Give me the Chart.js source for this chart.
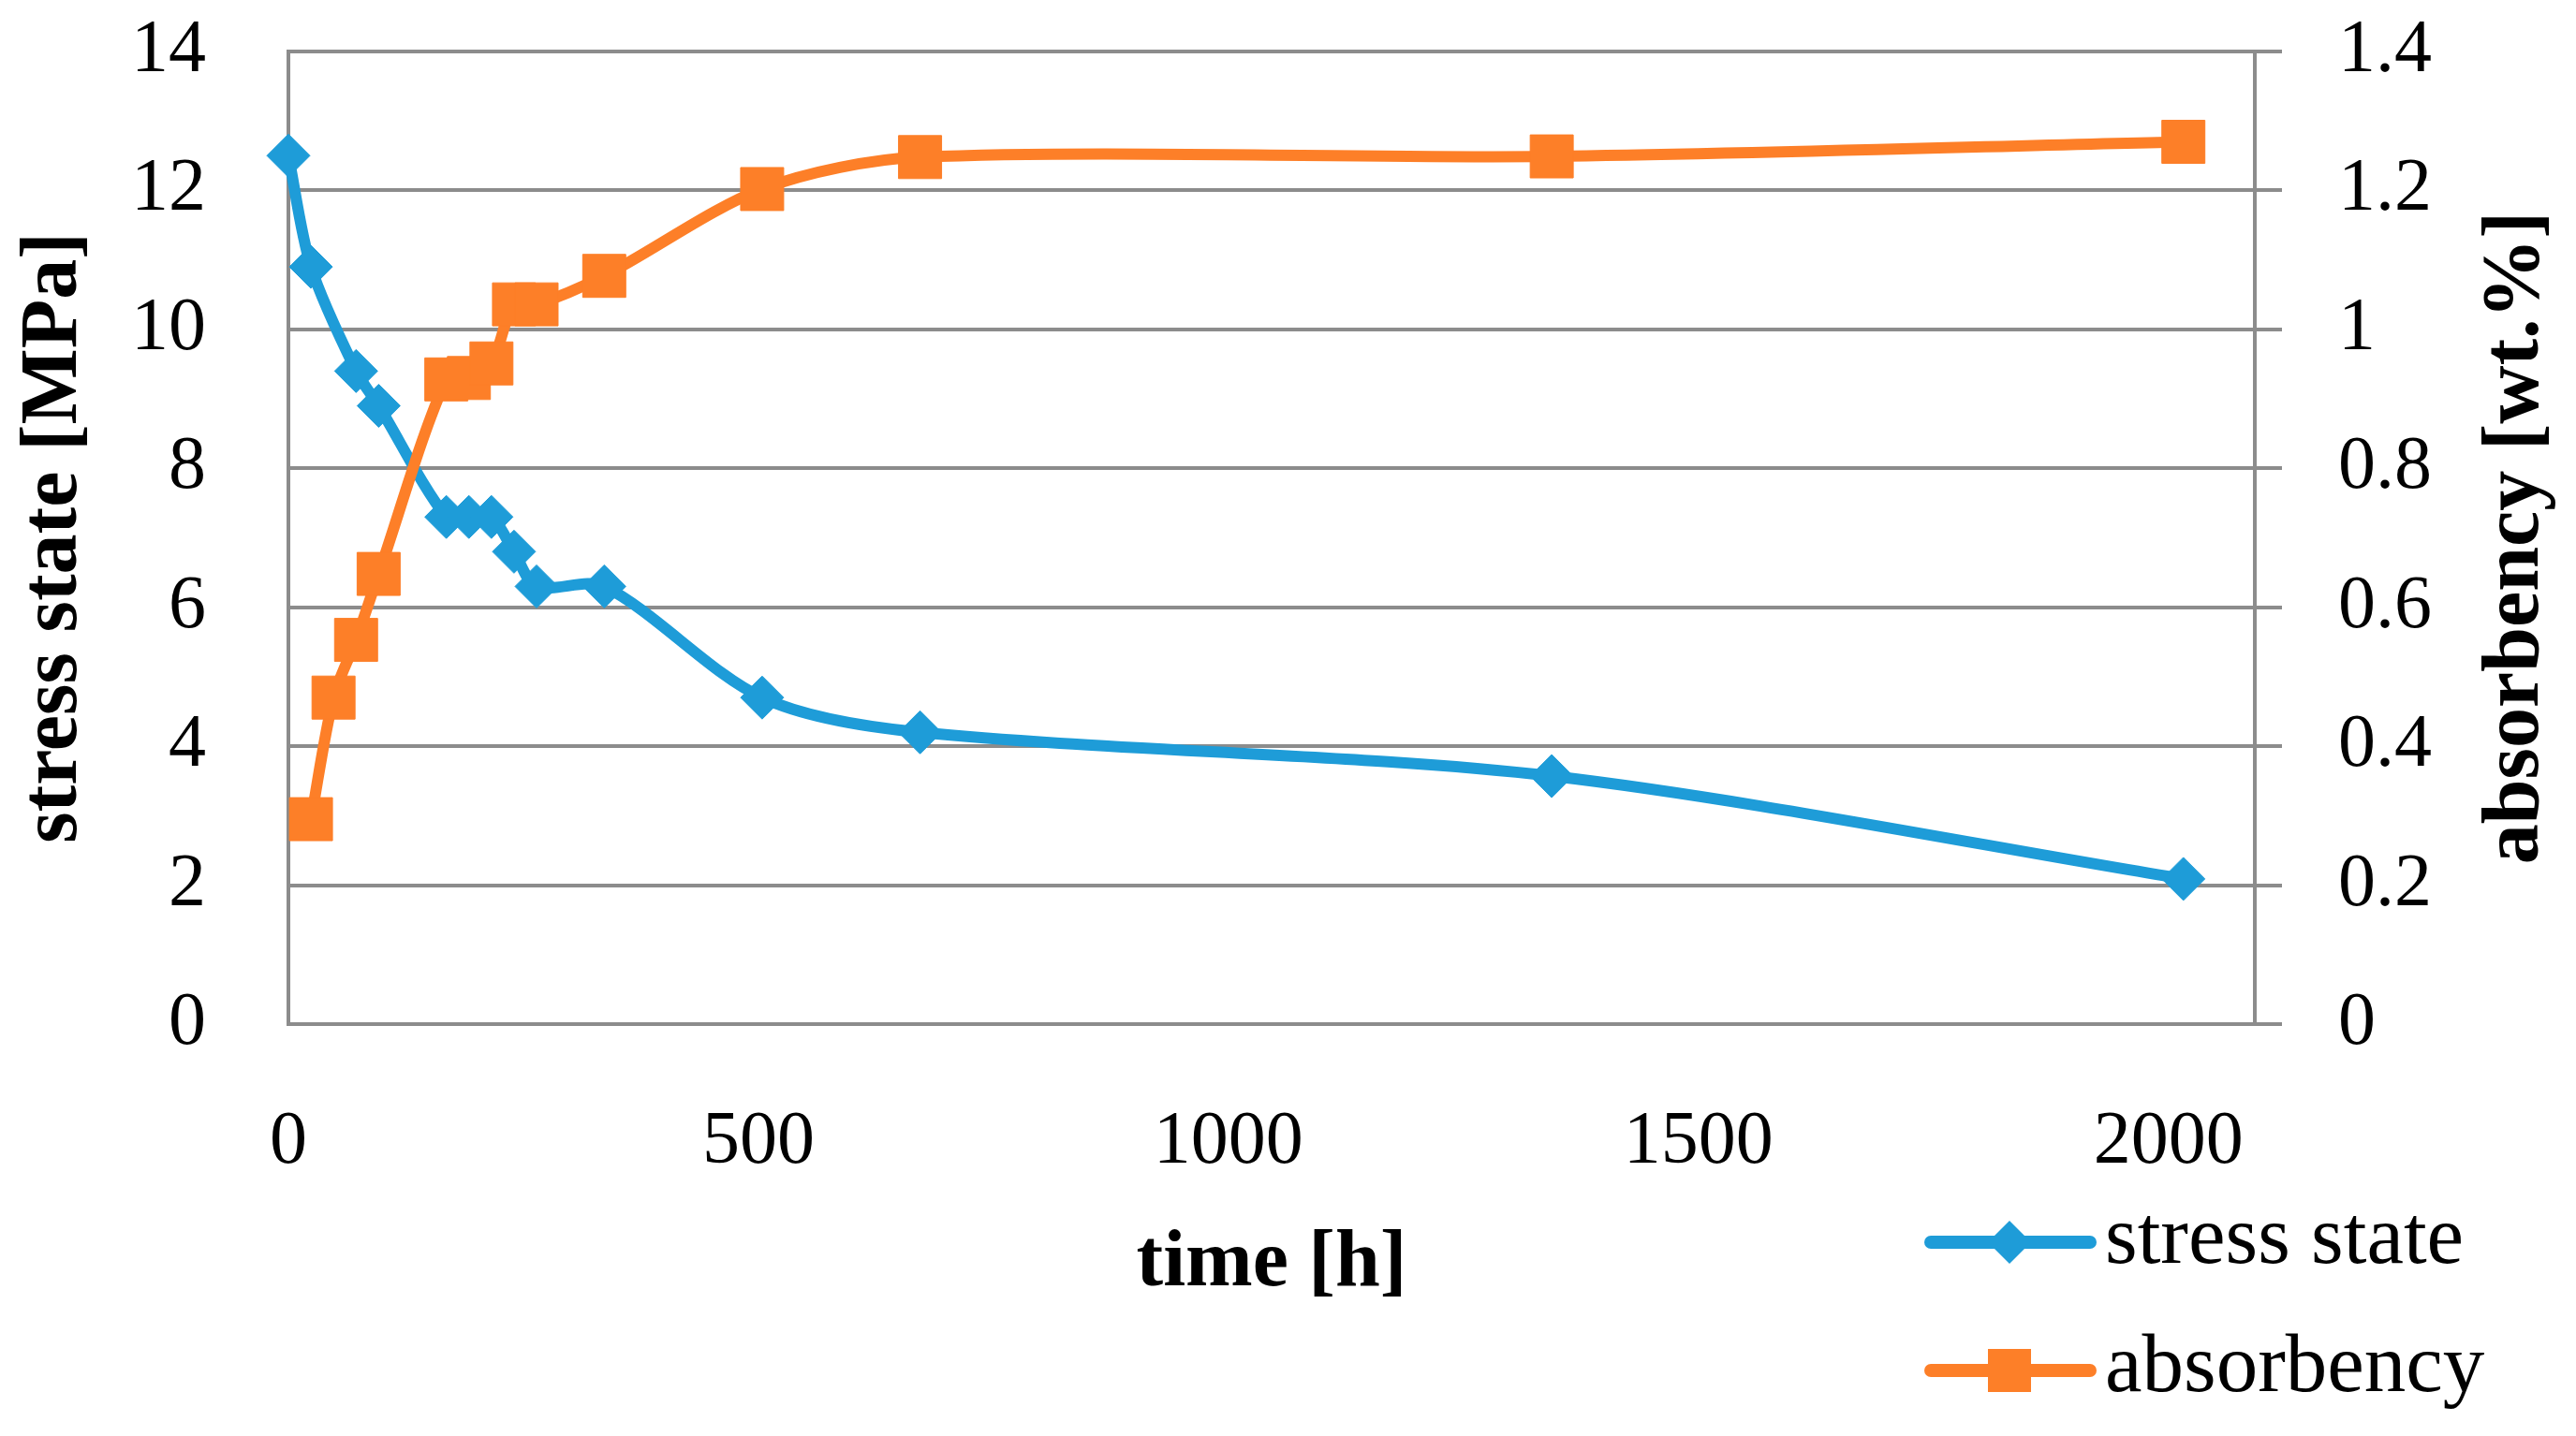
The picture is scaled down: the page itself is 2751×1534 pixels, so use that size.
<!DOCTYPE html>
<html>
<head>
<meta charset="utf-8">
<title>stress state and absorbency</title>
<script src="https://cdn.jsdelivr.net/npm/chart.js@4/dist/chart.umd.min.js"></script>
<style>
  html, body { margin: 0; padding: 0; background: #ffffff; }
  #wrap { width: 2751px; height: 1534px; }
</style>
</head>
<body>
<div id="wrap"><canvas id="chart" width="2751" height="1534"></canvas></div>
<script>
// time in hours
const stressTime = [0, 24, 72, 96, 168, 192, 216, 240, 264, 336, 504, 672, 1344, 2016];
const stressValues = [12.5, 10.9, 9.4, 8.9, 7.3, 7.3, 7.3, 6.8, 6.3, 6.3, 4.7, 4.2, 3.57, 2.09];

const absorbTime = [24, 48, 72, 96, 168, 192, 216, 240, 264, 336, 504, 672, 1344, 2016];
const absorbValues = [0.295, 0.47, 0.553, 0.648, 0.928, 0.93, 0.951, 1.036, 1.036, 1.077, 1.202, 1.248, 1.249, 1.27];

const xTicks = [0, 500, 1000, 1500, 2000];
const seriesLabels = ['stress state', 'absorbency'];
const xTitle = 'time [h]';
const leftTitle = 'stress state [MPa]';
const rightTitle = 'absorbency [wt.%]';

const blue = '#1e9cd8';
const orange = '#fd7f28';
const gridGray = '#8c8c8c';
const serif = "'Liberation Serif', 'Times New Roman', serif";

function toPoints(xs, ys) {
  return xs.map((x, i) => ({ x: x, y: ys[i] }));
}

// keep the big label padding from pushing the plot down
function fixWidth(w) {
  return scale => {
    scale.width = w;
    scale.paddingTop = 40;
    scale.paddingBottom = 40;
  };
}

// right axis title reads bottom-to-top, and the legend sits under the plot as a column
const extras = {
  id: 'extras',
  afterDraw(chart) {
    const ctx = chart.ctx;
    const area = chart.chartArea;

    ctx.save();
    ctx.font = 'bold 86px ' + serif;
    ctx.fillStyle = '#000';
    ctx.textAlign = 'center';
    ctx.textBaseline = 'alphabetic';
    ctx.translate(chart.width - 41, (area.top + area.bottom) / 2);
    ctx.rotate(-Math.PI / 2);
    ctx.fillText(rightTitle, 0, 0);
    ctx.restore();

    const rows = [1327, 1464];
    chart.data.datasets.forEach((ds, i) => {
      const y = rows[i];
      ctx.save();
      ctx.strokeStyle = ds.borderColor;
      ctx.lineWidth = 14;
      ctx.lineCap = 'round';
      ctx.beginPath();
      ctx.moveTo(2062, y);
      ctx.lineTo(2232, y);
      ctx.stroke();
      ctx.fillStyle = ds.borderColor;
      ctx.beginPath();
      if (ds.pointStyle === 'rectRot') {
        ctx.moveTo(2146 - 23, y);
        ctx.lineTo(2146, y - 23);
        ctx.lineTo(2146 + 23, y);
        ctx.lineTo(2146, y + 23);
        ctx.closePath();
      } else {
        ctx.rect(2146 - 23, y - 23, 46, 46);
      }
      ctx.fill();
      ctx.fillStyle = '#000';
      ctx.font = '89px ' + serif;
      ctx.textAlign = 'left';
      ctx.textBaseline = 'alphabetic';
      ctx.fillText(ds.label, 2248, y + 22);
      ctx.restore();
    });
  }
};

new Chart(document.getElementById('chart'), {
  type: 'line',
  data: {
    datasets: [{
      label: seriesLabels[0],
      data: toPoints(stressTime, stressValues),
      yAxisID: 'y',
      borderColor: blue,
      backgroundColor: blue,
      borderWidth: 12,
      borderJoinStyle: 'round',
      borderCapStyle: 'round',
      pointStyle: 'rectRot',
      pointRadius: 23,
      pointBorderWidth: 1,
      pointBorderColor: blue,
      pointBackgroundColor: blue,
      tension: 0.3,
      clip: false,
      order: 2
    }, {
      label: seriesLabels[1],
      data: toPoints(absorbTime, absorbValues),
      yAxisID: 'y2',
      borderColor: orange,
      backgroundColor: orange,
      borderWidth: 12,
      borderJoinStyle: 'round',
      borderCapStyle: 'round',
      pointStyle: 'rect',
      pointRadius: 32.5,
      pointBorderWidth: 1,
      pointBorderColor: orange,
      pointBackgroundColor: orange,
      tension: 0.3,
      clip: false,
      order: 1
    }]
  },
  options: {
    responsive: false,
    devicePixelRatio: 1,
    animation: false,
    layout: { padding: { top: 55, bottom: 132, left: 0, right: 0 } },
    plugins: {
      legend: { display: false },
      tooltip: { enabled: false }
    },
    scales: {
      x: {
        type: 'linear',
        min: 0,
        max: 2092,
        grid: { display: false },
        border: { display: false },
        afterBuildTicks: scale => { scale.ticks = xTicks.map(v => ({ value: v })); },
        afterFit: scale => { scale.height = 308; },
        ticks: {
          padding: 71,
          color: '#000',
          font: { family: serif, size: 80 },
          maxRotation: 0,
          callback: v => String(v)
        },
        title: {
          display: true,
          text: xTitle,
          color: '#000',
          padding: 0,
          font: { family: serif, size: 86, weight: 'bold' }
        }
      },
      y: {
        position: 'left',
        min: 0,
        max: 14,
        afterFit: fixWidth(308),
        grid: { color: gridGray, lineWidth: 4, drawTicks: false },
        border: { display: true, color: gridGray, width: 4 },
        ticks: {
          stepSize: 2,
          padding: 88,
          color: '#000',
          font: { family: serif, size: 80 },
          callback: v => String(v)
        },
        title: {
          display: true,
          text: leftTitle,
          color: '#000',
          padding: { top: 7, bottom: 0 },
          font: { family: serif, size: 86, weight: 'bold' }
        }
      },
      y2: {
        position: 'right',
        min: 0,
        max: 1.4,
        afterFit: fixWidth(343),
        grid: { color: gridGray, lineWidth: 4, drawOnChartArea: false, drawTicks: true, tickLength: 29 },
        border: { display: true, color: gridGray, width: 4 },
        ticks: {
          stepSize: 0.2,
          padding: 60,
          color: '#000',
          font: { family: serif, size: 80 },
          callback: v => String(+v.toFixed(1))
        }
      }
    }
  },
  plugins: [extras]
});
</script>
</body>
</html>
